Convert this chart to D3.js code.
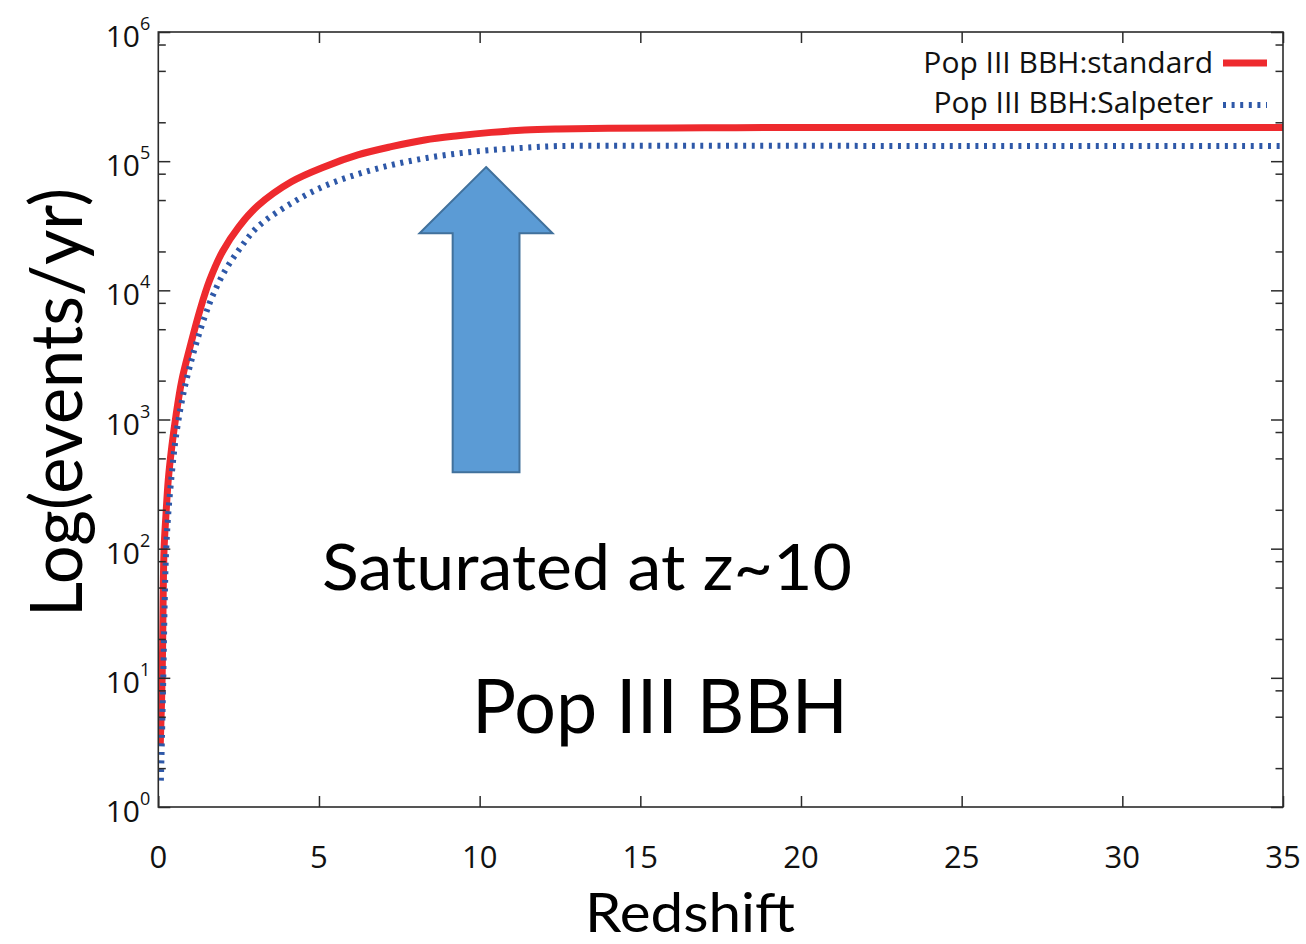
<!DOCTYPE html>
<html>
<head>
<meta charset="utf-8">
<script src="https://cdn.jsdelivr.net/npm/d3@7"></script>
<style>
  html, body { margin: 0; padding: 0; background: #fff; }
  svg { display: block; }
</style>
</head>
<body>
<svg id="chart" width="1306" height="944"></svg>
<script>
// Cumulative Pop III BBH merger rate versus redshift, two IMF models.
const redshiftStandard = [0.06, 0.12, 0.15, 0.18, 0.24, 0.31, 0.42, 0.55, 0.73, 0.986, 1.3, 1.6, 2.0, 2.5, 3.1, 4.14, 5.18, 6.21, 7.25, 8.29, 9.33, 10.36, 11.4, 12.44, 14, 17, 20, 25, 30, 35];
const eventsStandard   = [3, 10, 40, 100, 186, 340, 615, 1070, 2000, 3630, 7080, 12000, 20000, 30900, 45200, 69200, 90600, 111700, 129400, 145900, 157400, 167100, 174200, 177400, 179500, 181500, 182000, 182000, 182000, 182000];

const redshiftSalpeter = [0.08, 0.1, 0.155, 0.2, 0.24, 0.31, 0.42, 0.55, 0.78, 1.09, 1.45, 1.71, 2.07, 2.5, 3.1, 4.14, 5.18, 6.21, 7.25, 8.29, 9.33, 10.36, 11.4, 12.44, 14, 17, 20, 25, 30, 35];
const eventsSalpeter   = [1.6, 2.5, 10, 40, 91, 186, 380, 740, 1585, 3250, 6300, 9300, 14100, 20400, 31100, 47200, 64300, 79400, 93300, 105200, 114800, 121900, 127000, 130900, 131500, 131500, 131500, 131000, 131000, 131000];

const seriesNames = ["Pop III BBH:standard", "Pop III BBH:Salpeter"];

const xTicks = [0, 5, 10, 15, 20, 25, 30, 35];
const yDecades = [1, 10, 100, 1000, 10000, 100000, 1000000];
const yExponents = ["0", "1", "2", "3", "4", "5", "6"];
const yMinorFactors = [2, 5, 8];

// Block arrow annotation, in data units
const arrowZ = 10.2, arrowHeadHalf = 2.07, arrowShaftHalf = 1.04;
const arrowTip = 90000, arrowNeck = 27700, arrowTail = 390;

const annotation1 = "Saturated at z~10";
const annotation2 = "Pop III BBH";
const xTitle = "Redshift";
const yTitle = "Log(events/yr)";

// ---- layout ----
const svg = d3.select("#chart");
const plotLeft = 158.3, plotRight = 1283, plotTop = 32, plotBottom = 807;
const x = d3.scaleLinear().domain([0, 35]).range([plotLeft, plotRight]);
const y = d3.scaleLog().domain([1, 1e6]).range([plotBottom, plotTop]);

const tickFont = "'Open Sans', 'Noto Sans', sans-serif";
const bigFont = "Lato, 'Open Sans', sans-serif";
const axisColor = "#2b2b2b";
const red = "#EE2A2E";
const blue = "#2E58A8";

// ---- series ----
const line = d3.line()
  .x(d => x(d[0]))
  .y(d => y(d[1]))
  .curve(d3.curveCatmullRom.alpha(0.5));

svg.append("clipPath").attr("id", "plotclip")
  .append("rect").attr("x", plotLeft).attr("y", plotTop)
  .attr("width", plotRight - plotLeft).attr("height", plotBottom - plotTop);

const plot = svg.append("g");

plot.append("path")
  .datum(d3.zip(redshiftStandard, eventsStandard))
  .attr("d", line)
  .attr("fill", "none")
  .attr("stroke", red)
  .attr("stroke-width", 7)
  .attr("stroke-linejoin", "round")
  .attr("clip-path", "url(#plotclip)");

plot.append("path")
  .datum(d3.zip(redshiftSalpeter, eventsSalpeter))
  .attr("d", line)
  .attr("fill", "none")
  .attr("stroke", blue)
  .attr("stroke-width", 6)
  .attr("stroke-dasharray", "3,5.6")
  .attr("clip-path", "url(#plotclip)");

// ---- frame and ticks ----
const minorTicks = [];
yDecades.slice(0, -1).forEach(d => yMinorFactors.forEach(f => minorTicks.push(d * f)));

function styleAxis(g) {
  g.select(".domain").remove();
  g.selectAll(".tick line").attr("stroke", axisColor).attr("stroke-width", 1.5);
  g.selectAll(".tick text").remove();
}

svg.append("g").attr("transform", `translate(0,${plotBottom})`)
  .call(d3.axisBottom(x).tickValues(xTicks).tickSize(-11).tickFormat(""))
  .call(styleAxis);
svg.append("g").attr("transform", `translate(0,${plotTop})`)
  .call(d3.axisTop(x).tickValues(xTicks).tickSize(-11).tickFormat(""))
  .call(styleAxis);
svg.append("g").attr("transform", `translate(${plotLeft},0)`)
  .call(d3.axisLeft(y).tickValues(yDecades).tickSize(-12).tickFormat(""))
  .call(styleAxis);
svg.append("g").attr("transform", `translate(${plotLeft},0)`)
  .call(d3.axisLeft(y).tickValues(minorTicks).tickSize(-7.5).tickFormat(""))
  .call(styleAxis);
svg.append("g").attr("transform", `translate(${plotRight},0)`)
  .call(d3.axisRight(y).tickValues(yDecades).tickSize(-12).tickFormat(""))
  .call(styleAxis);
svg.append("g").attr("transform", `translate(${plotRight},0)`)
  .call(d3.axisRight(y).tickValues(minorTicks).tickSize(-7.5).tickFormat(""))
  .call(styleAxis);

svg.append("rect")
  .attr("x", plotLeft).attr("y", plotTop)
  .attr("width", plotRight - plotLeft).attr("height", plotBottom - plotTop)
  .attr("fill", "none").attr("stroke", axisColor).attr("stroke-width", 1.6);

// ---- tick labels ----
svg.append("g").selectAll("text")
  .data(xTicks).join("text")
  .attr("x", d => x(d))
  .attr("y", plotBottom + 61)
  .attr("text-anchor", "middle")
  .attr("font-family", tickFont)
  .attr("font-size", 31)
  .attr("fill", "#111")
  .text(d => d);

const yl = svg.append("g").selectAll("text")
  .data(yDecades).join("text")
  .attr("x", plotLeft - 8)
  .attr("y", d => y(d) + 15)
  .attr("text-anchor", "end")
  .attr("font-family", tickFont)
  .attr("font-size", 30)
  .attr("fill", "#111");
yl.append("tspan").text("10");
yl.append("tspan")
  .attr("font-size", 18)
  .attr("dy", -17)
  .text((d, i) => yExponents[i]);

// ---- legend ----
const legend = svg.append("g");
[[73, 63, red, null, 7], [113, 105, blue, "3,5.6", 6]].forEach((r, i) => {
  legend.append("text")
    .attr("x", 1213).attr("y", r[0])
    .attr("text-anchor", "end")
    .attr("font-family", tickFont)
    .attr("font-size", 30)
    .attr("fill", "#111")
    .text(seriesNames[i]);
  legend.append("line")
    .attr("x1", 1223).attr("x2", 1267)
    .attr("y1", r[1]).attr("y2", r[1])
    .attr("stroke", r[2])
    .attr("stroke-width", r[4])
    .attr("stroke-dasharray", r[3]);
});

// ---- block arrow ----
const arrowPts = [
  [arrowZ, arrowTip],
  [arrowZ + arrowHeadHalf, arrowNeck],
  [arrowZ + arrowShaftHalf, arrowNeck],
  [arrowZ + arrowShaftHalf, arrowTail],
  [arrowZ - arrowShaftHalf, arrowTail],
  [arrowZ - arrowShaftHalf, arrowNeck],
  [arrowZ - arrowHeadHalf, arrowNeck]
];
svg.append("polygon")
  .attr("points", arrowPts.map(p => [x(p[0]), y(p[1])].join(",")).join(" "))
  .attr("fill", "#5B9BD5")
  .attr("stroke", "#41719C")
  .attr("stroke-width", 2)
  .attr("stroke-linejoin", "miter");

// ---- annotations and titles ----
svg.append("text")
  .attr("x", 322).attr("y", 590)
  .attr("font-family", bigFont).attr("font-size", 64)
  .attr("textLength", 530).attr("lengthAdjust", "spacingAndGlyphs")
  .attr("fill", "#000")
  .text(annotation1);

svg.append("text")
  .attr("x", 472).attr("y", 733)
  .attr("font-family", bigFont).attr("font-size", 76)
  .attr("textLength", 376).attr("lengthAdjust", "spacingAndGlyphs")
  .attr("fill", "#000")
  .text(annotation2);

svg.append("text")
  .attr("x", 585).attr("y", 932)
  .attr("font-family", bigFont).attr("font-size", 54)
  .attr("textLength", 210).attr("lengthAdjust", "spacingAndGlyphs")
  .attr("fill", "#000")
  .text(xTitle);

svg.append("text")
  .attr("transform", "translate(82,617) rotate(-90)")
  .attr("font-family", bigFont).attr("font-size", 72)
  .attr("textLength", 429).attr("lengthAdjust", "spacingAndGlyphs")
  .attr("fill", "#000")
  .text(yTitle);
</script>
</body>
</html>
